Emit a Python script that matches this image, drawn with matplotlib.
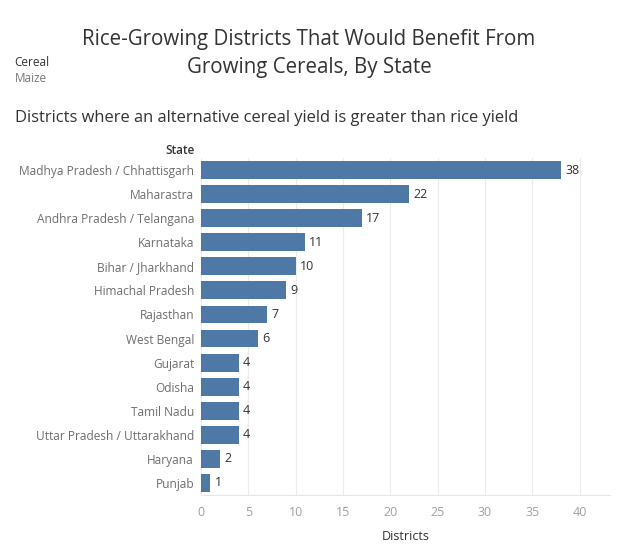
import matplotlib
matplotlib.use("Agg")
import matplotlib.pyplot as plt

states = ["Madhya Pradesh / Chhattisgarh", "Maharastra", "Andhra Pradesh / Telangana",
          "Karnataka", "Bihar / Jharkhand", "Himachal Pradesh", "Rajasthan", "West Bengal",
          "Gujarat", "Odisha", "Tamil Nadu", "Uttar Pradesh / Uttarakhand", "Haryana", "Punjab"]
districts = [38, 22, 17, 11, 10, 9, 7, 6, 4, 4, 4, 4, 2, 1]
xticks = [0, 5, 10, 15, 20, 25, 30, 35, 40]

plt.rcParams['font.family'] = ['Open Sans', 'DejaVu Sans']

fig = plt.figure(figsize=(6.19, 5.59), dpi=100)
ax = fig.add_axes([201/619, 1-495/559, (610-201)/619, (495-158)/559])

y = list(range(len(states)))
ax.barh(y, districts, height=0.74, color="#4e79a7", zorder=3)
for yi, v in zip(y, districts):
    ax.text(v + 0.45, yi, str(v), va="center", ha="left", fontsize=9, color="#333333")

ax.set_ylim(len(states) - 0.5, -0.5)
ax.set_xlim(0, 43.2)
ax.set_yticks(y)
ax.set_yticklabels(states, fontsize=8.6, color="#6e6e6e")
ax.set_xticks(xticks)
ax.set_xticklabels([str(t) for t in xticks], fontsize=9, color="#a0a0a0")
ax.tick_params(axis="x", length=0, pad=8)
ax.tick_params(axis="y", length=0, pad=5)
ax.grid(axis="x", color="#ececec", linewidth=0.8, zorder=0)
for s in ["top", "right", "left"]:
    ax.spines[s].set_visible(False)
ax.spines["bottom"].set_color("#e6e6e6")
ax.set_xlabel("Districts", fontsize=9, color="#333333", labelpad=8)

fig.text(309/619, 1-40/559, "Rice-Growing Districts That Would Benefit From",
         ha="center", va="center", fontsize=14.8, color="#333333")
fig.text(309/619, 1-67/559, "Growing Cereals, By State",
         ha="center", va="center", fontsize=14.8, color="#333333")
fig.text(14/619, 1-63/559, "Cereal", ha="left", va="center", fontsize=8.5, color="#333333")
fig.text(15/619, 1-79/559, "Maize", ha="left", va="center", fontsize=8.5, color="#777777")
fig.text(15/619, 1-118/559, "Districts where an alternative cereal yield is greater than rice yield",
         ha="left", va="center", fontsize=11.9, color="#333333")
fig.text(195/619, 1-151/559, "State", ha="right", va="center", fontsize=8.5,
         color="#333333", fontweight="semibold")

fig.savefig("out.png", dpi=100, facecolor="white")
